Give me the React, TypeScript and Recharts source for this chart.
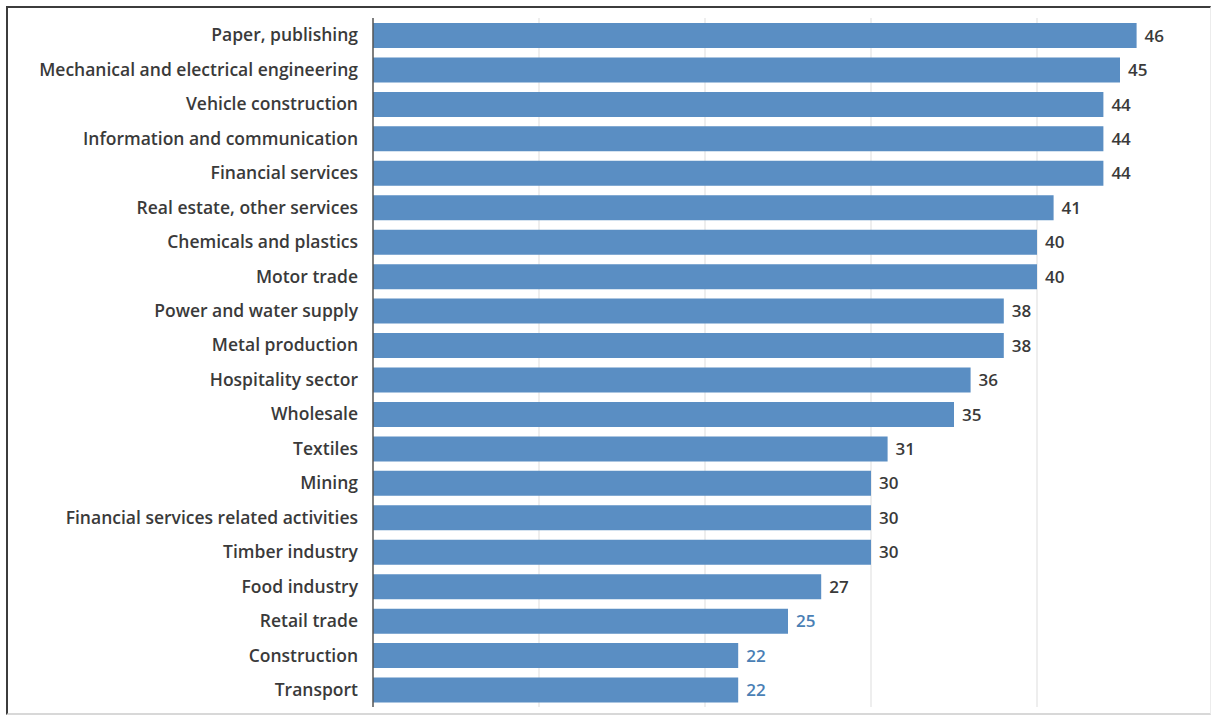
import React from "react";
import { BarChart, Bar, XAxis, YAxis, CartesianGrid, LabelList } from "recharts";

// Sectors, top to bottom
const sectors = [
  "Paper, publishing",
  "Mechanical and electrical engineering",
  "Vehicle construction",
  "Information and communication",
  "Financial services",
  "Real estate, other services",
  "Chemicals and plastics",
  "Motor trade",
  "Power and water supply",
  "Metal production",
  "Hospitality sector",
  "Wholesale",
  "Textiles",
  "Mining",
  "Financial services related activities",
  "Timber industry",
  "Food industry",
  "Retail trade",
  "Construction",
  "Transport",
];

const values = [46, 45, 44, 44, 44, 41, 40, 40, 38, 38, 36, 35, 31, 30, 30, 30, 27, 25, 22, 22];

// Value axis range and the interior gridline positions
const xDomain: [number, number] = [0, 50];
const gridTicks = [10, 20, 30, 40];

const data = sectors.map((name, i) => ({ name, value: values[i] }));

const BAR = "#5a8ec3";
const TEXT = "#3a3a3a";
const FONT = "'Open Sans', sans-serif";

const ValueLabel = (props: any) => {
  const { x, y, width, height, value, index } = props;
  const fill = index >= 17 ? "#4a7fb5" : TEXT;
  return (
    <text
      x={x + width + 8}
      y={y + height / 2}
      dy="0.36em"
      fill={fill}
      fontSize={17}
      fontWeight={600}
      fontFamily={FONT}
    >
      {value}
    </text>
  );
};

// Map the gridline values onto the plot area along the value axis
const gridGenerator = (props: any) => {
  const scale = props?.xAxis?.scale;
  if (typeof scale === "function") return gridTicks.map((t) => scale(t));
  const { left, width } = props.offset;
  const [d0, d1] = xDomain;
  return gridTicks.map((t) => left + ((t - d0) / (d1 - d0)) * width);
};

export default function App() {
  return (
    <div style={{ position: "absolute", left: 0, top: 0, width: 1213, height: 718, background: "#fff" }}>
      <div
        style={{
          position: "absolute",
          left: 6,
          top: 6,
          width: 1205,
          height: 709,
          borderLeft: "2px solid #3c3c3c",
          borderTop: "2px solid #3c3c3c",
          borderBottom: "2px solid #d8d8d8",
          borderRight: "1px solid #ececec",
          boxSizing: "border-box",
        }}
      />
      <div style={{ position: "absolute", left: 0, top: 0 }}>
        <BarChart
          width={1213}
          height={718}
          data={data}
          layout="vertical"
          margin={{ top: 18, right: 10, bottom: 11, left: 0 }}
          barSize={25}
        >
          <CartesianGrid
            horizontal={false}
            vertical
            stroke="#e8e8e8"
            strokeWidth={1.5}
            verticalCoordinatesGenerator={gridGenerator}
          />
          <XAxis
            type="number"
            domain={xDomain}
            ticks={[0, ...gridTicks, 50]}
            height={0}
            tick={false}
            tickLine={false}
            axisLine={false}
          />
          <YAxis
            type="category"
            dataKey="name"
            width={373}
            tickLine={false}
            tickSize={0}
            tickMargin={15}
            axisLine={{ stroke: "#555", strokeWidth: 1.5 }}
            tick={{ fill: TEXT, fontSize: 17.5, fontWeight: 600, fontFamily: FONT }}
            interval={0}
          />
          <Bar dataKey="value" fill={BAR} isAnimationActive={false}>
            <LabelList dataKey="value" content={ValueLabel} />
          </Bar>
        </BarChart>
      </div>
    </div>
  );
}
